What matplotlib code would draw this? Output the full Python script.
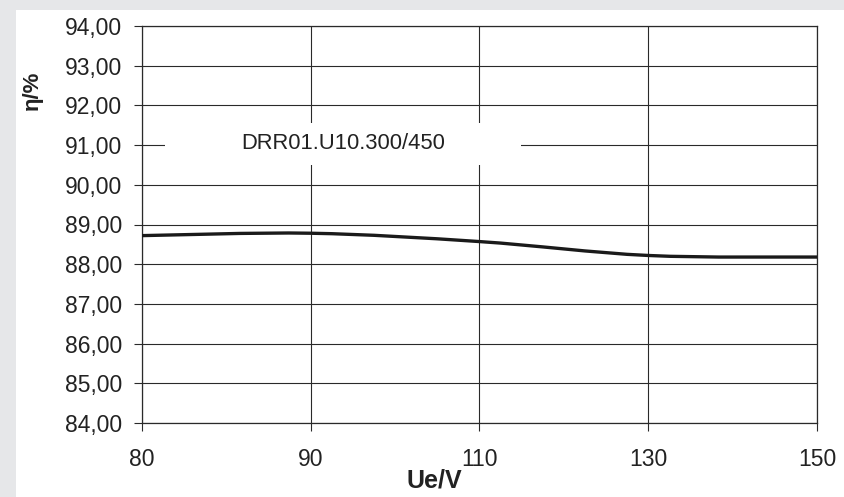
import matplotlib as mpl
mpl.use('Agg')
import numpy as np
import matplotlib.pyplot as plt
from matplotlib.path import Path
from matplotlib.patches import PathPatch, Rectangle

# data
voltages = ['80', '90', '110', '130', '150']
efficiency = [88.72, 88.78, 88.57, 88.22, 88.18]
yticks = [84, 85, 86, 87, 88, 89, 90, 91, 92, 93, 94]
series_name = 'DRR01.U10.300/450'

plt.rcParams['font.family'] = ['Liberation Sans', 'DejaVu Sans']
txtcol = '#222222'

fig = plt.figure(figsize=(8.45, 4.97), dpi=100)
fig.patch.set_facecolor('#e6e7e9')
# white panel behind everything
fig.patches.append(Rectangle((16/845., 0), 1, 1-10/497., transform=fig.transFigure,
                             facecolor='white', edgecolor='none', zorder=-10))

ax = fig.add_axes([142/845., 1-423/497., 675/845., 397/497.])
ax.set_facecolor('white')

x = np.arange(len(voltages))
y = np.array(efficiency)

# smooth curve through the points (bezier segments, catmull-rom style)
verts = [(x[0], y[0])]
codes = [Path.MOVETO]
n = len(x)
for i in range(n-1):
    p0 = np.array([x[max(i-1, 0)], y[max(i-1, 0)]])
    p1 = np.array([x[i], y[i]])
    p2 = np.array([x[i+1], y[i+1]])
    p3 = np.array([x[min(i+2, n-1)], y[min(i+2, n-1)]])
    c1 = p1 + (p2-p0)/6.
    c2 = p2 - (p3-p1)/6.
    verts += [tuple(c1), tuple(c2), tuple(p2)]
    codes += [Path.CURVE4]*3
ax.add_patch(PathPatch(Path(verts, codes), facecolor='none', edgecolor='#1a1a1a',
                       linewidth=2.4, zorder=4, capstyle='butt'))

ax.set_xlim(0, n-1)
ax.set_ylim(84, 94)
ax.set_xticks(x)
ax.set_xticklabels(voltages)
ax.set_yticks(yticks)
ax.yaxis.set_major_formatter(mpl.ticker.FuncFormatter(lambda v, p: ('%.2f' % v).replace('.', ',')))
ax.grid(True, color='#2a2a2a', linewidth=0.8, zorder=1)
ax.set_axisbelow(True)
for s in ax.spines.values():
    s.set_color('#2a2a2a')
    s.set_linewidth(0.9)
ax.tick_params(direction='out', length=5.8, width=0.8, color='#2a2a2a',
               labelsize=16.5, labelcolor=txtcol, pad=8.5)
ax.tick_params(axis='x', pad=12)

# white label box covering the grid
ax.add_patch(Rectangle((0.034, 0.650), 0.527, 0.106, transform=ax.transAxes,
                       facecolor='white', edgecolor='none', zorder=2))
ax.text(0.298, 0.703, series_name, transform=ax.transAxes, ha='center', va='center',
        fontsize=15.8, color=txtcol, zorder=3)

fig.text(434/845., 1-481/497., 'Ue/V', ha='center', va='center', fontsize=18,
         fontweight='bold', color=txtcol)
fig.text(32/845., 1-90/497., 'η/%', ha='center', va='center', rotation=90,
         fontsize=16, fontweight='bold', color=txtcol)

plt.savefig('out.png', dpi=100, facecolor=fig.get_facecolor())
plt.close()
